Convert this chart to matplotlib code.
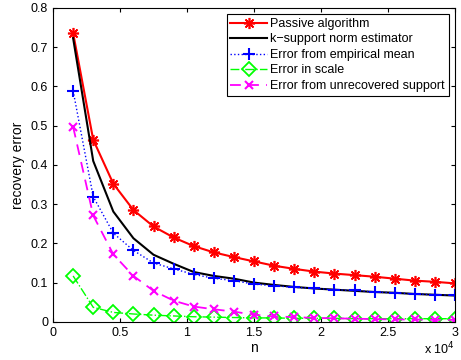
import matplotlib
matplotlib.use("Agg")
import matplotlib.pyplot as plt
from matplotlib.ticker import FuncFormatter
import numpy as np

plt.rcParams["font.family"] = ["Liberation Sans", "DejaVu Sans"]

# sample sizes n (1500 .. 30000)
n = [1500, 3000, 4500, 6000, 7500, 9000, 10500, 12000, 13500, 15000,
     16500, 18000, 19500, 21000, 22500, 24000, 25500, 27000, 28500, 30000]

passive = [0.736, 0.464, 0.352, 0.285, 0.243, 0.215, 0.193, 0.177, 0.165, 0.154,
           0.143, 0.135, 0.128, 0.123, 0.119, 0.115, 0.110, 0.105, 0.102, 0.098]
ksupport = [0.723, 0.410, 0.281, 0.213, 0.171, 0.148, 0.127, 0.117, 0.110, 0.100,
            0.094, 0.089, 0.085, 0.082, 0.079, 0.076, 0.074, 0.071, 0.069, 0.067]
emp_mean = [0.589, 0.319, 0.226, 0.182, 0.150, 0.135, 0.121, 0.111, 0.105, 0.096,
            0.092, 0.088, 0.085, 0.082, 0.080, 0.076, 0.074, 0.071, 0.069, 0.068]
scale = [0.117, 0.037, 0.024, 0.020, 0.017, 0.015, 0.013, 0.012, 0.011, 0.010,
         0.010, 0.009, 0.009, 0.009, 0.008, 0.008, 0.008, 0.008, 0.008, 0.008]
unrecovered = [0.497, 0.271, 0.172, 0.117, 0.079, 0.054, 0.039, 0.032, 0.026, 0.018,
               0.014, 0.012, 0.010, 0.009, 0.008, 0.007, 0.006, 0.006, 0.005, 0.005]

fig = plt.figure(figsize=(4.61, 3.6), dpi=100)
ax = fig.add_axes([0.115, 0.106, 0.872, 0.872])

ax.plot(n, passive, color="red", lw=1.5, marker=(8, 2, 0), ms=8, mew=1.2,
        label="Passive algorithm")
ax.plot(n, ksupport, color="black", lw=1.5, label="k\u2212support norm estimator")
ax.plot(n, emp_mean, color="blue", lw=1, ls=":", marker="+", ms=8, mew=1.5,
        label="Error from empirical mean")
ax.plot(n, scale, color="#00ff00", lw=1, ls="-.", marker="D", ms=7, mew=1.3,
        mfc="none", label="Error in scale")
ax.plot(n, unrecovered, color="magenta", lw=1.3, ls=(0, (6, 4)), marker="x",
        ms=6, mew=1.5, label="Error from unrecovered support")

ax.set_xlim(0, 30000)
ax.set_ylim(0, 0.8)
ax.set_xticks(np.arange(0, 30001, 5000))
ax.set_yticks(np.arange(0, 0.81, 0.1))
ax.xaxis.set_major_formatter(FuncFormatter(lambda v, p: f"{v / 1e4:g}"))
ax.yaxis.set_major_formatter(FuncFormatter(lambda v, p: f"{v:g}"))
ax.tick_params(direction="in", top=True, right=True, labelsize=9, length=3)
for s in ax.spines.values():
    s.set_linewidth(0.8)

ax.set_xlabel("n", fontsize=10, labelpad=2)
ax.set_ylabel("recovery error", fontsize=10, labelpad=4)
ax.text(1.0, -0.06, r"x 10$^4$", transform=ax.transAxes, ha="right", va="top",
        fontsize=9)

leg = ax.legend(loc="upper right", fontsize=9, handlelength=2.9, handletextpad=0.3,
                labelspacing=0.28, borderpad=0.3, fancybox=False, framealpha=1,
                edgecolor="black", borderaxespad=0.5)
leg.get_frame().set_linewidth(0.8)

fig.savefig("out.png", dpi=100)
